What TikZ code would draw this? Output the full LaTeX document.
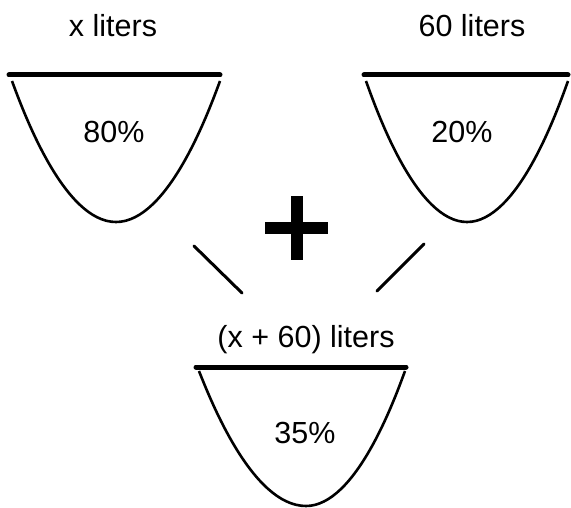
\documentclass[tikz,border=0pt]{standalone}
\usepackage{fontspec}
\setmainfont{Liberation Sans}
\begin{document}
\begin{tikzpicture}[x=1pt,y=-1pt,
  lbl/.style={font=\fontsize{30.5}{36}\selectfont, inner sep=0pt, anchor=base},
  rim/.style={line width=5pt, line cap=round},
  bowl/.style={line width=2.6pt},
  conn/.style={line width=3pt, line cap=round}]
\useasboundingbox[fill=white] (0,0) rectangle (571,508);
% left beaker
\draw[rim] (9,75) -- (220,75);
\draw[bowl] (12,81) parabola bend (116,222) (220,81);
\node[lbl] (xl) at (113,37) {x liters};
\node[lbl] (p80) at (114,143) {80\%};
% right beaker
\draw[rim] (364,75) -- (568,75);
\draw[bowl] (366,81) parabola bend (467,222) (568,81);
\node[lbl] (sl) at (472,37) {60 liters};
\node[lbl] (p20) at (462,143) {20\%};
% plus
\fill (265,222) rectangle (328,234);
\fill (291,196) rectangle (303,260);
% connectors
\coordinate (l1) at (194,246);
\coordinate (l2) at (242,293);
\coordinate (r1) at (424,244);
\coordinate (r2) at (377,291);
\draw[conn] (l1) -- (l2);
\draw[conn] (r1) -- (r2);
% bottom beaker
\draw[rim] (196,367) -- (406,367);
\draw[bowl] (199,371) parabola bend (306,506) (405,371);
\node[lbl] (tl) at (306,347) {(x + 60) liters};
\node[lbl] (p35) at (305,443) {35\%};
\end{tikzpicture}
\end{document}
